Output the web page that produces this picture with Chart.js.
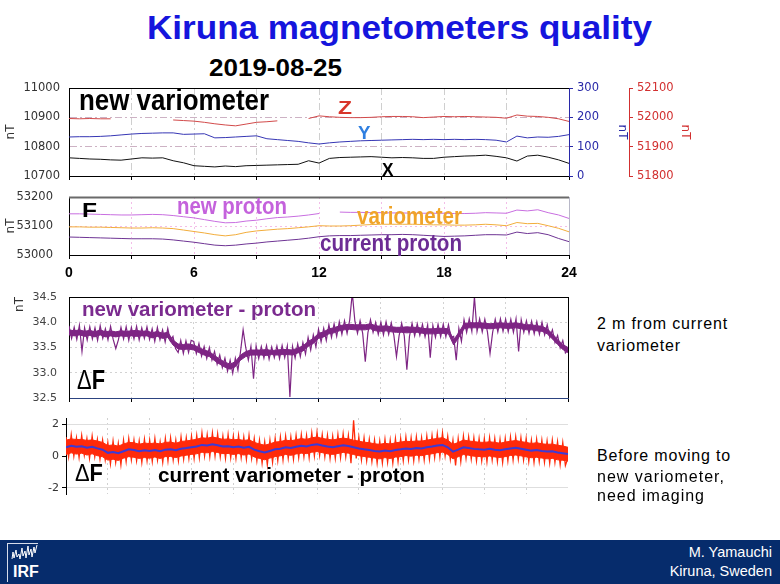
<!DOCTYPE html>
<html>
<head>
<meta charset="utf-8">
<script src="https://cdn.jsdelivr.net/npm/chart.js@4.4.1/dist/chart.umd.min.js"></script>
<style>
  body { margin: 0; background: #fff; }
  #slide { position: relative; width: 780px; height: 584px; overflow: hidden; background: #fff;
           font-family: "Liberation Sans", Arial, sans-serif; }
  canvas { position: absolute; left: 0; }
  .t { position: absolute; white-space: nowrap; line-height: 1; font-weight: bold; transform-origin: 0 0; }
  .n { font-weight: normal; }
  #foot { position: absolute; left: 0; top: 540px; width: 780px; height: 44px; background: #062c6c; }
</style>
</head>
<body>
<div id="slide">
  <div class="t" data-w="505" style="left:147px;top:12px;font-size:32.5px;color:#1515dd">Kiruna magnetometers quality</div>
  <div class="t" data-w="133" style="left:209px;top:57px;font-size:23.5px;color:#000">2019-08-25</div>

  <canvas id="c1" width="700" height="112" style="top:76px"></canvas>
  <canvas id="c2" width="590" height="100" style="top:185px"></canvas>
  <canvas id="c3" width="590" height="125" style="top:285px"></canvas>
  <canvas id="c4" width="590" height="100" style="top:406px"></canvas>

  <div class="t" data-w="190" style="left:79px;top:85px;font-size:30px;color:#000">new variometer</div>
  <div class="t" data-w="14" style="left:338px;top:99px;font-size:18px;color:#d8352a">Z</div>
  <div class="t" data-w="12.5" style="left:358px;top:124px;font-size:18px;color:#2f7fe0">Y</div>
  <div class="t" data-w="11.5" style="left:382px;top:161px;font-size:18.5px;color:#000">X</div>

  <div class="t" data-w="15" style="left:82px;top:199px;font-size:21px;color:#000">F</div>
  <div class="t" data-w="110" style="left:177px;top:195px;font-size:23px;color:#c462dc">new proton</div>
  <div class="t" data-w="105" style="left:357px;top:205px;font-size:23px;color:#f0a428">variometer</div>
  <div class="t" data-w="142" style="left:320px;top:232px;font-size:23px;color:#6c2c94">current proton</div>

  <div class="t" data-w="234" style="left:82px;top:299px;font-size:20px;color:#7b2b8f">new variometer - proton</div>
  <div class="t" data-w="28" style="left:77px;top:367px;font-size:27px;color:#000"><span class="n">Δ</span>F</div>

  <div class="t" data-w="28" style="left:75px;top:462px;font-size:23px;color:#000"><span class="n">Δ</span>F</div>
  <div class="t" data-w="267" style="left:158px;top:465px;font-size:20px;color:#000">current variometer - proton</div>

  <div class="t n" data-s="131" style="left:597px;top:316px;font-size:16px;color:#000">2 m from current</div>
  <div class="t n" data-s="84" style="left:597px;top:338px;font-size:16px;color:#000">variometer</div>
  <div class="t n" data-s="134" style="left:597px;top:448px;font-size:16px;color:#000">Before moving to</div>
  <div class="t n" data-s="128" style="left:597px;top:469px;font-size:16px;color:#000">new variometer,</div>
  <div class="t n" data-s="108" style="left:597px;top:488px;font-size:16px;color:#000">need imaging</div>

  <div id="foot"></div>
  <svg style="position:absolute;left:6px;top:542px" width="40" height="42">
    <line x1="1.5" y1="1" x2="1.5" y2="40" stroke="#d6dcea" stroke-width="1"/>
    <line x1="1.5" y1="1.5" x2="32" y2="1.5" stroke="#d6dcea" stroke-width="1"/>
    <polyline points="6,17 7,10 8,16 10,8 11,15 13,12 14,17 16,6 17,14 19,9 20,16 22,4 23,13 25,7 26,15 28,5 29,11 31,3"
      fill="none" stroke="#fff" stroke-width="1"/>
  </svg>
  <div class="t" style="left:13px;top:564px;font-size:16px;color:#fff">IRF</div>
  <div class="t n" style="right:8px;top:545px;font-size:14.5px;color:#fff">M. Yamauchi</div>
  <div class="t n" style="right:8px;top:564px;font-size:14.5px;color:#fff">Kiruna, Sweden</div>
</div>

<script>
// hours on the x axis; labels shown under the F panel
const hourLabels = [0, 6, 12, 18, 24];
const dfTicks = [-2, 0, 2];

// new variometer components, every 0.5 h (X in nT, Y on 0-300 axis, Z on 51800-52100 axis)
const compX = [10762, 10760, 10758, 10757, 10755, 10754, 10758, 10762, 10761, 10762,
  10752, 10745, 10735, 10733, 10731, 10734, 10732, 10735, 10736, 10737,
  10738, 10739, 10740, 10752, 10744, 10760, 10763, 10764, 10765, 10766,
  10764, 10762, 10763, 10762, 10760, 10760, 10764, 10766, 10768, 10769,
  10771, 10767, 10762, 10751, 10768, 10771, 10764, 10755, 10743];
const compY = [133, 134, 134, 135, 137, 140, 143, 145, 146, 147,
  147, 142, 143, 144, 130, 131, 133, 135, 137, 127,
  124, 121, 118, 113, 109, 113, 116, 118, 120, 121,
  122, 123, 124, 125, 124, 125, 124, 125, 124, 125,
  124, 122, 116, 136, 130, 133, 132, 135, 141];
const compZ = [51996, 51995, 51996, 51995, 51995, null, null, null, null, null,
  51991, 51989, 51987, 51983, 51978, 51974, 51971, 51977, 51983, 51985,
  51988, null, null, 51996, 52005, 52002, 52000, 51999, 51999, 52000,
  52002, 52003, 52003, 52002, 51999, 52001, 52003, 52002, 52003, 52002,
  52001, 52000, 51997, 52008, 52004, 52003, 52000, 51995, 51986];

// total field F, every 0.5 h
const fNewProton = [53142, 53142, 53141, 53140, 53139, 53138, 53138, 53139, 53140, 53139,
  53136, 53132, 53128, 53122, 53116, 53111, 53112, 53117, 53120, 53125,
  53129, 53131, 53134, 53138, 53143, null, 53148, 53147, 53147, 53146,
  53146, 53145, 53145, 53144, 53144, 53144, 53144, 53143, 53143, 53144,
  53146, 53145, 53144, 53155, 53152, 53156, 53146, 53138, 53126];
const fVariometer = [53097, 53097, 53096, 53096, 53095, 53094, 53093, 53093, 53094, 53093,
  53091, 53086, 53081, 53076, 53070, 53066, 53070, 53078, 53083, 53086,
  53089, 53091, 53094, 53097, 53101, 53100, 53100, 53101, 53103, 53105,
  53106, 53106, 53106, 53106, 53105, 53104, 53104, 53103, 53103, 53104,
  53106, 53104, 53101, 53112, 53108, 53109, 53101, 53092, 53080];
const fCurrentProton = [53062, 53061, 53060, 53059, 53058, 53057, 53056, 53056, 53056, 53055,
  53052, 53048, 53044, 53039, 53034, 53032, 53034, 53038, 53041, 53045,
  53048, 53051, 53054, 53058, 53063, 53066, 53067, 53067, 53068, 53069,
  53070, 53070, 53071, 53070, 53068, 53066, 53064, 53065, 53066, 53068,
  53070, 53070, 53069, 53079, 53074, 53077, 53070, 53057, 53046];

// new variometer - proton, samples every 0.125 h (one row per hour)
const dfNew = [
  33.93, 33.68, 33.90, 33.66, 33.94, 33.42, 33.89, 33.65,
  33.91, 33.67, 33.89, 33.64, 33.93, 33.68, 33.87, 33.65,
  33.92, 33.66, 33.48, 33.65, 33.90, 33.67, 33.91, 33.64,
  33.90, 33.67, 33.92, 33.65, 33.89, 33.68, 33.91, 33.66,
  33.87, 33.62, 33.90, 33.65, 33.85, 33.61, 33.88, 33.63,
  33.72, 33.48, 33.40, 33.64, 33.38, 33.63, 33.40, 33.64,
  33.62, 33.38, 33.58, 33.33, 33.52, 33.28, 33.50, 33.25,
  33.42, 33.17, 33.35, 33.10, 33.29, 33.03, 33.25, 32.99,
  33.29, 33.05, 33.42, 33.85, 33.50, 33.25, 33.52, 32.88,
  33.53, 33.28, 33.52, 33.29, 33.54, 33.27, 33.51, 33.30,
  33.53, 33.28, 33.54, 33.30, 33.53, 32.52, 33.52, 33.29,
  33.57, 33.32, 33.60, 33.37, 33.70, 33.45, 33.75, 33.51,
  33.86, 33.61, 33.88, 33.64, 33.95, 33.70, 33.97, 33.72,
  34.01, 33.76, 34.03, 33.78, 34.04, 34.58, 34.02, 33.78,
  34.03, 33.78, 33.22, 33.79, 34.05, 33.80, 34.00, 33.76,
  34.00, 33.75, 34.01, 33.76, 33.99, 33.74, 33.32, 33.73,
  33.98, 33.73, 33.06, 33.72, 33.98, 33.73, 33.97, 33.74,
  33.96, 33.71, 33.95, 33.30, 33.94, 33.70, 33.96, 33.71,
  33.96, 33.71, 33.95, 33.70, 33.72, 33.25, 33.88, 33.62,
  34.05, 33.80, 34.07, 33.82, 34.50, 33.82, 34.07, 33.81,
  34.06, 33.81, 33.38, 33.80, 34.06, 33.81, 34.07, 33.82,
  34.06, 33.81, 34.06, 33.80, 34.07, 33.42, 34.05, 33.80,
  34.03, 33.78, 34.02, 33.77, 34.01, 33.76, 34.00, 33.75,
  33.95, 33.70, 33.85, 33.60, 33.74, 33.49, 33.64, 33.39,
  33.45];
// dense core of the same trace (upper / lower edge) every 0.25 h
const dfNewHigh = [
  33.85, 33.83, 33.85, 33.82, 33.84, 33.81, 33.85, 33.81,
  33.83, 33.81, 33.83, 33.82, 33.83, 33.84, 33.82, 33.83,
  33.79, 33.82, 33.78, 33.80, 33.65, 33.57, 33.56, 33.57,
  33.55, 33.50, 33.45, 33.42, 33.34, 33.27, 33.21, 33.17,
  33.22, 33.35, 33.42, 33.45, 33.45, 33.45, 33.46, 33.44,
  33.45, 33.46, 33.46, 33.45, 33.49, 33.53, 33.62, 33.68,
  33.78, 33.81, 33.87, 33.89, 33.93, 33.95, 33.96, 33.95,
  33.95, 33.95, 33.97, 33.93, 33.92, 33.93, 33.91, 33.90,
  33.90, 33.91, 33.90, 33.90, 33.88, 33.87, 33.87, 33.88,
  33.88, 33.87, 33.65, 33.80, 33.97, 33.99, 33.99, 33.99,
  33.98, 33.97, 33.98, 33.99, 33.98, 33.98, 33.99, 33.97,
  33.95, 33.95, 33.93, 33.92, 33.87, 33.77, 33.66, 33.56,
  33.50];
const dfNewLow = [
  33.75, 33.73, 33.75, 33.72, 33.74, 33.71, 33.75, 33.71,
  33.73, 33.71, 33.73, 33.72, 33.73, 33.72, 33.73, 33.73,
  33.69, 33.72, 33.68, 33.70, 33.55, 33.47, 33.46, 33.47,
  33.45, 33.40, 33.35, 33.32, 33.24, 33.17, 33.11, 33.07,
  33.12, 33.25, 33.32, 33.35, 33.35, 33.35, 33.34, 33.36,
  33.35, 33.36, 33.36, 33.35, 33.39, 33.43, 33.52, 33.58,
  33.68, 33.71, 33.77, 33.79, 33.83, 33.85, 33.86, 33.85,
  33.85, 33.85, 33.87, 33.83, 33.82, 33.83, 33.81, 33.80,
  33.80, 33.79, 33.80, 33.80, 33.78, 33.77, 33.77, 33.78,
  33.78, 33.77, 33.55, 33.70, 33.87, 33.89, 33.89, 33.89,
  33.88, 33.87, 33.88, 33.89, 33.88, 33.88, 33.89, 33.87,
  33.85, 33.85, 33.83, 33.82, 33.77, 33.67, 33.56, 33.46,
  33.40];

// current variometer - proton: raw samples every 0.125 h
const dfCurRaw = [
  1.20, -0.05, 1.35, 0.00, 1.15, -0.10, 1.30, 0.05,
  1.10, -0.15, 1.25, -0.05, 1.05, -0.20, 1.00, -0.25,
  0.85, -0.50, 0.95, -0.40, 0.80, -0.55, 1.00, -0.35,
  1.10, -0.25, 1.00, -0.30, 0.95, -0.40, 1.05, -0.30,
  1.00, -0.35, 1.10, -0.25, 0.90, -0.40, 1.10, -0.30,
  1.15, -0.25, 1.00, -0.30, 1.20, -0.20, 1.15, -0.15,
  1.25, -0.15, 1.30, -0.10, 1.45, 0.00, 1.35, -0.05,
  1.45, 0.00, 1.40, -0.05, 1.25, -0.15, 1.35, -0.10,
  1.25, -0.15, 1.30, -0.10, 1.20, -0.20, 1.30, -0.15,
  1.10, -0.30, 1.00, -0.45, 0.90, -0.55, 1.00, -0.40,
  1.10, -0.30, 1.20, -0.25, 1.25, -0.15, 1.20, -0.20,
  1.30, -0.10, 1.35, -0.05, 1.30, -0.10, 1.45, 0.00,
  1.50, 0.05, 1.35, -0.05, 1.30, -0.15, 1.25, -0.15,
  1.35, -0.10, 1.40, -0.05, 1.30, -0.45, 2.25, -0.15,
  1.20, -0.25, 1.15, -0.30, 1.05, -0.35, 1.00, -0.45,
  0.95, -0.45, 1.05, -0.40, 1.00, -0.45, 1.10, -0.35,
  1.10, -0.30, 1.20, -0.25, 1.15, -0.30, 1.20, -0.20,
  1.15, -0.25, 1.25, -0.20, 1.30, -0.10, 1.40, -0.05,
  1.45, 0.00, 1.25, -0.20, 1.00, -0.60, 1.10, -0.35,
  1.25, -0.15, 1.20, -0.20, 1.15, -0.30, 1.10, -0.30,
  1.10, -0.35, 1.15, -0.25, 1.10, -0.35, 1.05, -0.40,
  1.10, -0.30, 1.20, -0.25, 1.20, -0.20, 1.15, -0.25,
  1.10, -0.35, 1.00, -0.40, 1.05, -0.35, 1.00, -0.40,
  0.95, -0.45, 1.00, -0.40, 0.90, -0.55, 0.85, -0.60,
  -0.10];
// dense core (upper / lower edge) and smoothed value, every 0.25 h
const dfCurHigh = [
  1.00, 1.08, 1.04, 1.05, 0.98, 1.02, 0.94, 0.86,
  0.66, 0.70, 0.62, 0.76, 0.86, 0.84, 0.74, 0.82,
  0.78, 0.82, 0.76, 0.86, 0.88, 0.80, 0.92, 0.95,
  1.00, 1.06, 1.15, 1.12, 1.20, 1.13, 1.05, 1.08,
  1.02, 1.05, 0.98, 1.03, 0.86, 0.76, 0.68, 0.77,
  0.88, 0.91, 1.00, 0.96, 1.03, 1.10, 1.05, 1.15,
  1.20, 1.11, 1.06, 1.01, 1.08, 1.13, 1.08, 1.00,
  0.94, 0.87, 0.84, 0.77, 0.74, 0.80, 0.76, 0.83,
  0.88, 0.93, 0.91, 0.95, 0.94, 1.00, 1.06, 1.11,
  1.16, 1.00, 0.74, 0.85, 1.01, 0.95, 0.91, 0.87,
  0.86, 0.90, 0.86, 0.81, 0.88, 0.93, 0.98, 0.91,
  0.86, 0.79, 0.84, 0.77, 0.74, 0.75, 0.68, 0.63,
  0.55];
const dfCurLow = [
  0.10, 0.20, 0.12, 0.18, 0.06, 0.14, 0.02, -0.05,
  -0.26, -0.20, -0.28, -0.14, -0.04, -0.08, -0.15, -0.10,
  -0.14, -0.06, -0.16, -0.04, -0.03, -0.10, 0.00, 0.05,
  0.10, 0.14, 0.24, 0.20, 0.28, 0.22, 0.15, 0.16,
  0.10, 0.15, 0.06, 0.13, -0.06, -0.15, -0.24, -0.13,
  -0.04, 0.01, 0.10, 0.04, 0.13, 0.18, 0.15, 0.24,
  0.28, 0.21, 0.14, 0.10, 0.16, 0.23, 0.18, 0.09,
  0.02, -0.03, -0.08, -0.13, -0.18, -0.10, -0.16, -0.07,
  -0.04, 0.03, -0.01, 0.05, 0.02, 0.10, 0.14, 0.21,
  0.24, 0.10, -0.18, -0.05, 0.09, 0.05, -0.01, -0.03,
  -0.06, 0.00, -0.06, -0.09, -0.04, 0.03, 0.06, 0.01,
  -0.06, -0.11, -0.08, -0.13, -0.18, -0.15, -0.24, -0.27,
  -0.32];
const dfCurSmooth = [
  0.55, 0.65, 0.58, 0.62, 0.52, 0.58, 0.48, 0.40,
  0.20, 0.25, 0.18, 0.30, 0.42, 0.38, 0.30, 0.36,
  0.32, 0.38, 0.30, 0.40, 0.42, 0.36, 0.46, 0.50,
  0.55, 0.60, 0.70, 0.66, 0.74, 0.68, 0.60, 0.62,
  0.56, 0.60, 0.52, 0.58, 0.40, 0.30, 0.22, 0.32,
  0.42, 0.46, 0.55, 0.50, 0.58, 0.64, 0.60, 0.70,
  0.74, 0.66, 0.60, 0.56, 0.62, 0.68, 0.63, 0.55,
  0.48, 0.42, 0.38, 0.32, 0.28, 0.35, 0.30, 0.38,
  0.42, 0.48, 0.45, 0.50, 0.48, 0.55, 0.60, 0.66,
  0.70, 0.55, 0.28, 0.40, 0.55, 0.50, 0.45, 0.42,
  0.40, 0.45, 0.40, 0.36, 0.42, 0.48, 0.52, 0.46,
  0.40, 0.34, 0.38, 0.32, 0.28, 0.30, 0.22, 0.18,
  0.12];

function pts(vals, step) {
  return vals.map((v, i) => ({ x: i * step, y: v }));
}

// fit slide texts to the widths measured on the picture
document.querySelectorAll('[data-w]').forEach(el => {
  const w = el.getBoundingClientRect().width;
  el.style.transform = 'scaleX(' + (+el.dataset.w / w) + ')';
});
document.querySelectorAll('[data-s]').forEach(el => {
  const w = el.getBoundingClientRect().width;
  el.style.letterSpacing = ((+el.dataset.s - w) / el.textContent.length) + 'px';
});

const frame = {
  id: 'frame',
  afterDatasetsDraw(chart, args, opts) {
    const { ctx, chartArea: a } = chart;
    (opts.sides || []).forEach(s => {
      ctx.save();
      ctx.strokeStyle = s.color;
      ctx.lineWidth = s.width;
      ctx.beginPath();
      if (s.side === 'top') {
        ctx.moveTo(a.left, a.top + 0.5);
        ctx.lineTo(a.right, a.top + 0.5);
      } else {
        ctx.moveTo(a.right + 0.5, a.top);
        ctx.lineTo(a.right + 0.5, a.bottom);
      }
      ctx.stroke();
      ctx.restore();
    });
  }
};

const tickFont = { family: 'DejaVu Sans', size: 11.5 };
const titleFont = { family: 'DejaVu Sans', size: 12 };
const inside = (c, lo, hi) => c.tick && c.tick.value > lo && c.tick.value < hi;

function options(sides, padRight, scales) {
  return {
    responsive: false,
    animation: false,
    layout: { padding: { top: 12, right: padRight, bottom: 0, left: 0 } },
    elements: { point: { radius: 0 }, line: { borderWidth: 1, tension: 0 } },
    plugins: { legend: { display: false }, tooltip: { enabled: false }, frame: { sides } },
    scales
  };
}

// panel 1: new variometer X, Y, Z
new Chart(document.getElementById('c1'), {
  type: 'line',
  data: {
    datasets: [
      { data: pts(compZ, 0.5), yAxisID: 'yR', borderColor: '#d24a4a', spanGaps: false },
      { data: pts(compY, 0.5), yAxisID: 'yB', borderColor: '#3636b4' },
      { data: pts(compX, 0.5), yAxisID: 'y', borderColor: '#111' }
    ]
  },
  options: options([{ side: 'top', color: '#000', width: 1 }], 0, {
    x: {
      type: 'linear', min: 0, max: 24,
      ticks: { stepSize: 3, display: false },
      grid: { color: c => inside(c, 0, 24) ? '#cfcfcf' : 'transparent', tickColor: '#000', tickLength: 4 },
      border: { color: '#000', dash: [7, 3, 2, 3] },
      afterFit: s => { s.height = 12; }
    },
    y: {
      position: 'left', min: 10700, max: 11000,
      ticks: { stepSize: 100, font: tickFont, color: '#333', padding: 3, callback: v => String(v) },
      grid: { color: c => inside(c, 10700, 11000) ? '#cdb2c4' : 'transparent', tickLength: 6, tickColor: 'transparent' },
      border: { color: '#000', dash: [7, 3, 2, 3] },
      title: { display: true, text: 'nT', font: titleFont, color: '#333', padding: { top: 4, bottom: 0 } },
      afterFit: s => { s.width = 69; }
    },
    yB: {
      position: 'right', min: 0, max: 300,
      ticks: { stepSize: 100, font: tickFont, color: '#2828a8', padding: 4 },
      grid: { drawOnChartArea: false, tickLength: 4, color: '#2828a8' },
      border: { color: '#2828a8' },
      title: { display: true, text: 'nT', font: titleFont, color: '#2828a8', padding: { top: 0, bottom: 0 } },
      afterFit: s => { s.width = 60; }
    },
    yR: {
      position: 'right', min: 51800, max: 52100,
      ticks: { stepSize: 100, font: tickFont, color: '#d23030', padding: 4, callback: v => String(v) },
      grid: { drawOnChartArea: false, tickLength: 4, color: '#d23030' },
      border: { color: '#d23030' },
      title: { display: true, text: 'nT', font: titleFont, color: '#d23030', padding: { top: 8, bottom: 0 } },
      afterFit: s => { s.width = 71; }
    }
  }),
  plugins: [frame]
});

// panel 2: total field F
new Chart(document.getElementById('c2'), {
  type: 'line',
  data: {
    datasets: [
      { data: pts(fNewProton, 0.5), borderColor: '#c86ee0', spanGaps: false },
      { data: pts(fVariometer, 0.5), borderColor: '#f2ad3c' },
      { data: pts(fCurrentProton, 0.5), borderColor: '#6e3494' }
    ]
  },
  options: options([{ side: 'top', color: '#6a6a6a', width: 2 }, { side: 'right', color: '#b8b8c8', width: 1 }], 21, {
    x: {
      type: 'linear', min: 0, max: 24,
      ticks: {
        stepSize: 3, maxRotation: 0, autoSkip: false, padding: 6, color: '#000',
        font: { family: 'Liberation Sans', size: 14, weight: 'bold' },
        callback: v => hourLabels.includes(v) ? String(v) : ''
      },
      grid: { color: c => inside(c, 0, 24) ? '#f3bde8' : 'transparent', tickColor: '#000', tickLength: 4 },
      border: { color: '#000', dash: [2, 3] },
      afterFit: s => { s.height = 30; }
    },
    y: {
      min: 53000, max: 53200,
      ticks: { stepSize: 100, font: tickFont, color: '#333', padding: 3, callback: v => String(v) },
      grid: { color: c => inside(c, 53000, 53200) ? '#f3bde8' : 'transparent', tickLength: 13, tickColor: 'transparent' },
      border: { color: '#000', dash: [2, 3] },
      title: { display: true, text: 'nT', font: titleFont, color: '#333', padding: { top: 4, bottom: 0 } },
      afterFit: s => { s.width = 69; }
    }
  }),
  plugins: [frame]
});

// panel 3: new variometer - proton
new Chart(document.getElementById('c3'), {
  type: 'line',
  data: {
    datasets: [
      { data: pts(dfNew, 0.125), borderColor: '#7e2584', borderWidth: 1.2 },
      { data: pts(dfNewHigh, 0.25), borderColor: '#7e2584', backgroundColor: '#7e2584', fill: '+1' },
      { data: pts(dfNewLow, 0.25), borderColor: '#7e2584' }
    ]
  },
  options: options([{ side: 'top', color: '#000', width: 1 }, { side: 'right', color: '#000', width: 1 }], 22, {
    x: {
      type: 'linear', min: 0, max: 24,
      ticks: { stepSize: 3, display: false },
      grid: { color: c => inside(c, 0, 24) ? '#d2d2d2' : 'transparent', tickColor: '#000', tickLength: 4 },
      border: { color: '#2c4380', dash: [2, 3] },
      afterFit: s => { s.height = 12; }
    },
    y: {
      min: 32.5, max: 34.5,
      ticks: { stepSize: 0.5, font: { family: 'DejaVu Sans', size: 11 }, color: '#444', padding: 3, callback: v => v.toFixed(1) },
      grid: { color: c => inside(c, 32.5, 34.5) ? '#d2d2d2' : 'transparent', tickLength: 9, tickColor: 'transparent' },
      border: { color: '#000', dash: [2, 3] },
      title: { display: true, text: 'nT', align: 'end', font: titleFont, color: '#333', padding: { top: 13, bottom: 0 } },
      afterFit: s => { s.width = 69; }
    }
  }),
  plugins: [frame]
});

// panel 4: current variometer - proton
new Chart(document.getElementById('c4'), {
  type: 'line',
  data: {
    datasets: [
      { data: pts(dfCurSmooth, 0.25), borderColor: '#3b3bd6', borderWidth: 2 },
      { data: pts(dfCurRaw, 0.125), borderColor: '#ff2a0a', borderWidth: 1.3 },
      { data: pts(dfCurHigh, 0.25), borderColor: '#ff2a0a', backgroundColor: '#ff2a0a', fill: '+1' },
      { data: pts(dfCurLow, 0.25), borderColor: '#ff2a0a' }
    ]
  },
  options: options([], 22, {
    x: {
      type: 'linear', min: 0, max: 24,
      ticks: { stepSize: 2, display: false },
      grid: { color: c => inside(c, 0, 24) ? '#d0d0d0' : 'transparent', drawTicks: false },
      border: { display: false, dash: [2, 3] },
      afterFit: s => { s.height = 12; }
    },
    y: {
      min: -2.4, max: 2.4,
      afterBuildTicks: s => { s.ticks = dfTicks.map(v => ({ value: v })); },
      ticks: { font: { family: 'DejaVu Sans', size: 11 }, color: '#333', padding: 3 },
      grid: { color: c => c.tick && c.tick.value !== 0 ? '#dedede' : 'transparent', tickLength: 4, tickColor: '#000' },
      border: { color: '#000' },
      afterFit: s => { s.width = 66; }
    }
  }),
  plugins: [frame]
});
</script>
</body>
</html>
